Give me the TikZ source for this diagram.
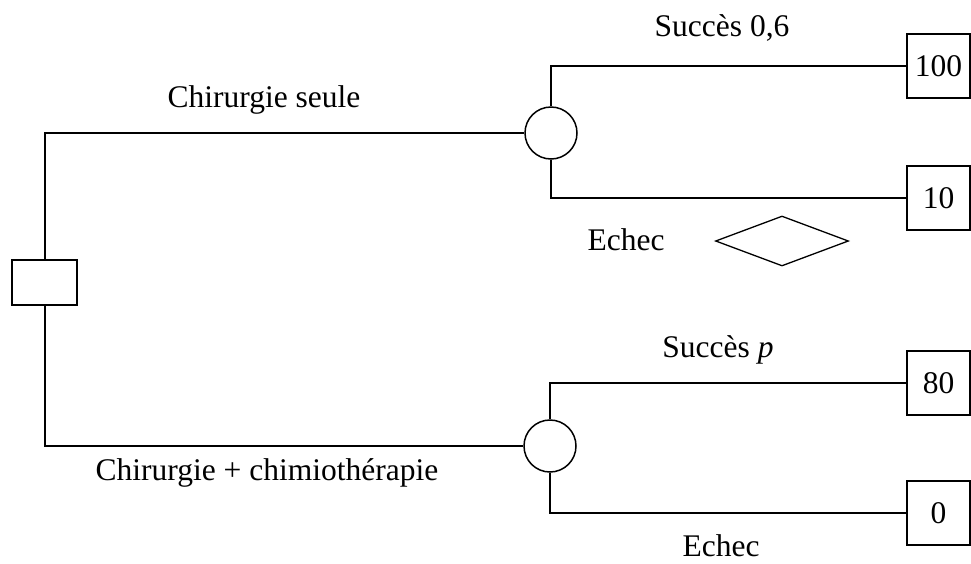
\documentclass[tikz,border=0pt]{standalone}
\usepackage{fontspec}
\setmainfont{Liberation Serif}
\usetikzlibrary{shapes.geometric}

\begin{document}
\begin{tikzpicture}[x=1pt,y=-1pt,line width=2pt,
                    every node/.style={font=\fontsize{31.5}{38}\selectfont},
                    decision node/.style={rectangle,draw,minimum width=65pt,minimum height=45pt,inner sep=0pt},
                    chance node/.style={circle,draw,minimum size=52pt,inner sep=0pt,line width=1.5pt},
                    end node/.style={rectangle,draw,minimum width=63pt,minimum height=64pt,inner sep=0pt},
                    elbow/.style={to path={|- (\tikztotarget)}}]
  \useasboundingbox (0,0) rectangle (971,563);
  \node[decision node] (d) at (44.5,282.5) {};
  \node[chance node] (c1) at (551,133) {};
  \node[chance node] (c2) at (550,446) {};
  \node[end node] (t1) at (938.5,66) {100};
  \node[end node] (t2) at (938.5,198) {10};
  \node[end node] (t3) at (938.5,383) {80};
  \node[end node] (t4) at (938.5,513) {0};
  \node[diamond,draw,minimum width=133pt,minimum height=50pt,inner sep=0pt,line width=1.3pt] (q) at (782,241) {};
  \node (l1) at (264,100) {Chirurgie seule};
  \node (l2) at (267,473) {Chirurgie + chimiothérapie};
  \node (s1) at (722,28) {Succès 0,6};
  \node (e1) at (626,240) {Echec};
  \node (s2) at (718,350) {Succès \textit{p}};
  \node[inner sep=1pt] (e2) at (721,546) {Echec};
  \path
    (d.north) edge[elbow] (c1.west)
    (d.south) edge[elbow] (c2.west)
    (c1.north) edge[elbow] (t1.west)
    (c1.south) edge[elbow] (t2.west)
    (c2.north) edge[elbow] (t3.west)
    (c2.south) edge[elbow] (t4.west);
\end{tikzpicture}
\end{document}
